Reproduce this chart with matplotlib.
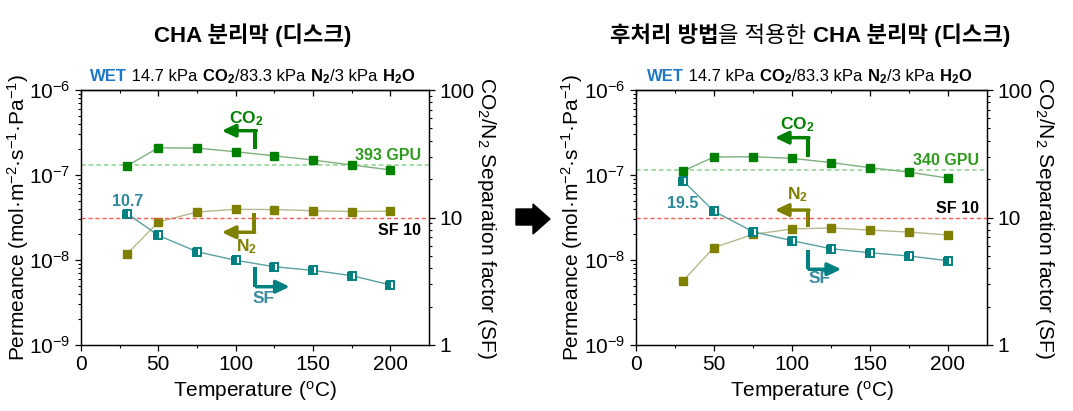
import numpy as np
import matplotlib
matplotlib.use("Agg")
import matplotlib.pyplot as plt
from matplotlib.ticker import MultipleLocator, FuncFormatter, NullFormatter, LogFormatterSciNotation
from matplotlib.patches import Polygon

plt.rcParams['font.family'] = ['Liberation Sans', 'Noto Sans CJK KR']
plt.rcParams['mathtext.fontset'] = 'custom'
plt.rcParams['mathtext.rm'] = 'Liberation Sans'
plt.rcParams['mathtext.it'] = 'Liberation Sans:italic'
plt.rcParams['mathtext.bf'] = 'Liberation Sans:bold'
plt.rcParams['axes.linewidth'] = 0.9

# data
temps = [30, 50, 75, 100, 125, 150, 175, 200]
co2_disk = [1.29e-7, 2.09e-7, 2.07e-7, 1.88e-7, 1.68e-7, 1.50e-7, 1.31e-7, 1.15e-7]
n2_disk = [1.19e-8, 2.80e-8, 3.67e-8, 3.95e-8, 3.92e-8, 3.80e-8, 3.72e-8, 3.76e-8]
sf_disk = [10.7, 7.24, 5.39, 4.62, 4.11, 3.85, 3.50, 2.96]
co2_post = [1.11e-7, 1.63e-7, 1.64e-7, 1.57e-7, 1.40e-7, 1.22e-7, 1.08e-7, 9.2e-8]
n2_post = [5.66e-9, 1.40e-8, 2.00e-8, 2.32e-8, 2.38e-8, 2.25e-8, 2.13e-8, 1.97e-8]
sf_post = [19.5, 11.2, 7.74, 6.58, 5.69, 5.29, 4.99, 4.58]
gpu_values = [393, 340]
sf_target = 10
GPU = 3.348e-10  # mol m-2 s-1 Pa-1

x_ticks = [0, 50, 100, 150, 200]
perm_ticks = [1e-9, 1e-8, 1e-7, 1e-6]
sf_ticks = [1, 10, 100]

C_CO2 = '#008000'
C_N2 = '#808000'
C_SF = '#008080'

fig = plt.figure(figsize=(10.73, 4.11), dpi=100)


def log_minors(majors):
    return [k * m for m in majors[:-1] for k in range(2, 10)]


def bracket(ax, x, y0, y1, x_tip, color):
    # L-shaped pointer: vertical bar then arrow along y1
    ax.plot([x, x], [y0, y1], color=color, lw=2.9, solid_capstyle='butt', zorder=5)
    ax.annotate('', xy=(x_tip, y1), xytext=(x + 0.7, y1),
                arrowprops=dict(arrowstyle='-|>,head_length=0.8,head_width=0.38',
                                mutation_scale=10, color=color, lw=2.5,
                                shrinkA=0, shrinkB=0), zorder=5)


def draw_panel(rect, co2, n2, sf, gpu, cfg):
    ax = fig.add_axes(rect)
    ax2 = ax.twinx()
    ax.set_xlim(0, 225)
    ax.set_yscale('log')
    ax2.set_yscale('log')

    ax.plot(temps, co2, color='#7fb07f', lw=1.0, zorder=2)
    ax.plot(temps, co2, ls='none', marker='s', ms=6.4, color=C_CO2, zorder=4)
    ax.plot(temps, n2, color='#b8b890', lw=1.0, zorder=2)
    ax.plot(temps, n2, ls='none', marker='s', ms=6.4, color=C_N2, zorder=4)
    ax2.plot(temps, sf, color='#5aa0a0', lw=1.0, zorder=2)
    ax2.plot(temps, sf, ls='none', marker='s', ms=6.0, color=C_SF, mec=C_SF,
             mew=1.4, fillstyle='left', markerfacecoloralt='white', zorder=4)

    ax.axhline(gpu * GPU, color='#8fcf8f', ls=(0, (3, 2)), lw=1.1, zorder=1)
    ax2.axhline(sf_target, color='#ff5a5a', ls=(0, (3, 2)), lw=1.0, zorder=1)

    ax.text(220, cfg['gpu_y'], f'{gpu} GPU', color='#2e9a1e', fontsize=11.5,
            fontweight='bold', ha='right', va='center')
    ax.text(220, cfg['sf10_y'], f'SF {sf_target}', color='black', fontsize=11.5,
            fontweight='bold', ha='right', va='center')
    ax.text(cfg['sf0_xy'][0], cfg['sf0_xy'][1], f'{sf[0]}', color='#2a8a9a',
            fontsize=11.5, fontweight='bold', ha='center', va='center')

    bracket(ax, *cfg['co2_br'], C_CO2)
    bracket(ax, *cfg['n2_br'], C_N2)
    bracket(ax, *cfg['sf_br'], C_SF)
    ax.text(*cfg['co2_lbl'], 'CO$_\\mathbf{2}$', color=C_CO2, fontsize=12.5,
            fontweight='bold', ha='center', va='center')
    ax.text(*cfg['n2_lbl'], 'N$_\\mathbf{2}$', color=C_N2, fontsize=12.5,
            fontweight='bold', ha='center', va='center')
    ax.text(*cfg['sf_lbl'], 'SF', color='#3a8aa0', fontsize=12.5,
            fontweight='bold', ha='center', va='center')

    # only ticks inside the view
    ax.set_xticks(x_ticks)
    ax.set_xticks(list(range(25, 225, 50)), minor=True)
    ax.set_yticks(perm_ticks)
    ax.set_yticks(log_minors(perm_ticks), minor=True)
    ax.yaxis.set_major_formatter(LogFormatterSciNotation())
    ax.yaxis.set_minor_formatter(NullFormatter())
    ax2.set_yticks(sf_ticks)
    ax2.set_yticks(log_minors(sf_ticks), minor=True)
    ax2.yaxis.set_major_formatter(FuncFormatter(lambda v, p: f'{v:g}'))
    ax2.yaxis.set_minor_formatter(NullFormatter())
    ax.set_ylim(1e-9, 1e-6)
    ax2.set_ylim(1, 100)

    ax.tick_params(axis='both', which='major', labelsize=15, length=4, width=0.9,
                   direction='out')
    ax.tick_params(axis='both', which='minor', length=2.5, width=0.8,
                   direction='out')
    ax2.tick_params(axis='y', which='major', labelsize=15, length=4, width=0.9)
    ax2.tick_params(axis='y', which='minor', length=2.5, width=0.8)

    # inward ticks along the top edge
    top = ax.secondary_xaxis('top')
    top.set_xticks(x_ticks)
    top.set_xticks(list(range(25, 225, 50)), minor=True)
    top.tick_params(axis='x', which='major', direction='in', length=4, width=0.9,
                    labeltop=False)
    top.tick_params(axis='x', which='minor', direction='in', length=2.5, width=0.8)

    ax.set_xlabel('Temperature ($^\\mathregular{o}$C)', fontsize=15, labelpad=3)
    ax.set_ylabel('Permeance (mol·m$^{-2}$·s$^{-1}$·Pa$^{-1}$)', fontsize=15)
    ax.yaxis.set_label_coords(-0.145, 0.5)
    ax2.set_ylabel('CO$_2$/N$_2$ Separation factor (SF)', fontsize=15,
                   rotation=270, labelpad=17)
    return ax


def rich_text(xc, y, parts, size):
    r = fig.canvas.get_renderer()
    items = []
    for s, kw in parts:
        t = fig.text(xc, y, s, fontsize=size, va='baseline', **kw)
        items.append((t, t.get_window_extent(r).width))
    x = xc * fig.bbox.width - sum(w for _, w in items) / 2
    for t, w in items:
        t.set_x(x / fig.bbox.width)
        x += w


cfg_disk = dict(
    gpu_y=1.68e-7, sf10_y=2.25e-8, sf0_xy=(30, 4.85e-8),
    co2_br=(112.7, 2.0e-7, 3.32e-7, 91.0), co2_lbl=(107, 4.64e-7),
    n2_br=(111.6, 3.54e-8, 2.12e-8, 91.0), n2_lbl=(107, 1.43e-8),
    sf_br=(112.7, 8.34e-9, 4.85e-9, 135.0), sf_lbl=(118, 3.57e-9),
)
cfg_post = dict(
    gpu_y=1.48e-7, sf10_y=4.07e-8, sf0_xy=(30, 4.68e-8),
    co2_br=(110.2, 1.64e-7, 2.75e-7, 89.0), co2_lbl=(103.6, 3.87e-7),
    n2_br=(110.2, 2.47e-8, 3.87e-8, 89.0), n2_lbl=(103.6, 5.82e-8),
    sf_br=(110.2, 1.31e-8, 7.78e-9, 131.6), sf_lbl=(117.7, 6.1e-9),
)

draw_panel([0.0755, 0.1606, 0.3243, 0.6204], co2_disk, n2_disk, sf_disk,
           gpu_values[0], cfg_disk)
draw_panel([0.5927, 0.1606, 0.3271, 0.6204], co2_post, n2_post, sf_post,
           gpu_values[1], cfg_post)

bold = dict(fontweight='bold')
norm = dict()
sub_parts = [('WET', dict(fontweight='bold', color='#1f78c8')),
             (' 14.7 kPa ', norm), ('CO$_\\mathbf{2}$', bold),
             ('/83.3 kPa ', norm), ('N$_\\mathbf{2}$', bold),
             ('/3 kPa ', norm), ('H$_\\mathbf{2}$O', bold)]
rich_text(253 / 1073, 0.803, sub_parts, 12)
rich_text(810 / 1073, 0.803, sub_parts, 12)
rich_text(253 / 1073, 0.898, [('CHA 분리막 (디스크)', bold)], 16)
rich_text(810 / 1073, 0.898, [('후처리 방법', bold), ('을 적용한 ', norm),
                              ('CHA 분리막 (디스크)', bold)], 16)

# big arrow between the panels
arrow_px = [(516, 209), (533, 209), (533, 204), (550, 219), (533, 234),
            (533, 225), (516, 225)]
fig.patches.append(Polygon([(x / 1073, 1 - y / 411) for x, y in arrow_px],
                           closed=True, color='black', transform=fig.transFigure))

fig.savefig('out.png', dpi=100)
